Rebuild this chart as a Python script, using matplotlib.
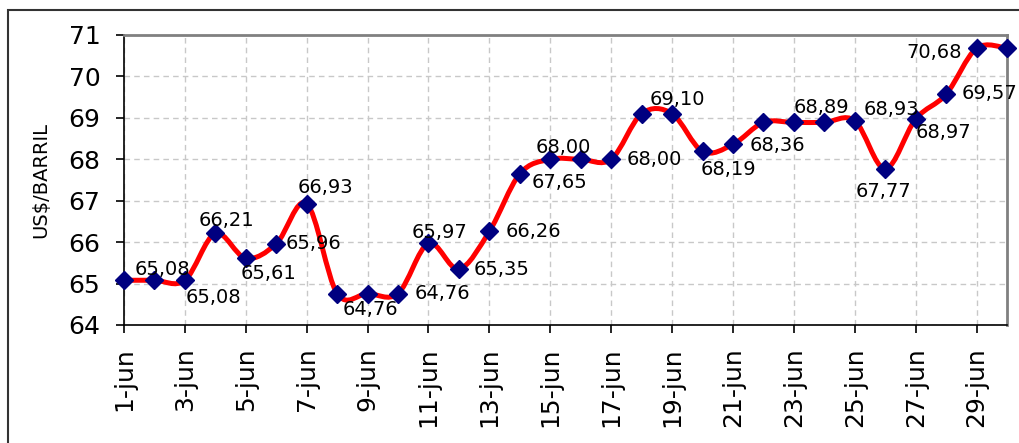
import matplotlib
matplotlib.use("Agg")
import matplotlib.pyplot as plt
from matplotlib.path import Path
from matplotlib.patches import PathPatch, Rectangle

plt.rcParams['font.family'] = ['DejaVu Sans']

# dias de junio y precio del barril
dias = list(range(1, 31))
precios = [65.08, 65.08, 65.08, 66.21, 65.61, 65.96, 66.93, 64.76, 64.76, 64.76,
           65.97, 65.35, 66.26, 67.65, 68.00, 68.00, 68.00, 69.10, 69.10, 68.19,
           68.36, 68.89, 68.89, 68.89, 68.93, 67.77, 68.97, 69.57, 70.68, 70.68]
dias_tick = list(range(1, 30, 2))
etiquetas_tick = [f"{d}-jun" for d in dias_tick]
y_ticks = list(range(64, 72))

# dia -> desplazamiento de la etiqueta (pixeles)
etiquetas_pos = {
    2: (8, 11), 3: (29, -17), 4: (11, 13), 5: (23, -15), 6: (37, 0),
    7: (19, 16), 9: (3, -16), 10: (44, 0), 11: (11, 11), 12: (43, 0),
    13: (44, 0), 14: (40, -9), 15: (13, 12), 17: (43, 0), 19: (5, 14),
    20: (26, -18), 21: (44, -1), 24: (-3, 15), 25: (37, 11), 26: (-2, -23),
    27: (28, -13), 28: (43, 1), 29: (-42, -4),
}


def curva_suave(xs, ys):
    # bezier tipo Excel (catmull-rom)
    pts = list(zip(xs, ys))
    n = len(pts)
    verts = [pts[0]]
    codes = [Path.MOVETO]
    for i in range(n - 1):
        p0 = pts[max(i - 1, 0)]
        p1 = pts[i]
        p2 = pts[i + 1]
        p3 = pts[min(i + 2, n - 1)]
        c1 = (p1[0] + (p2[0] - p0[0]) / 6, p1[1] + (p2[1] - p0[1]) / 6)
        c2 = (p2[0] - (p3[0] - p1[0]) / 6, p2[1] - (p3[1] - p1[1]) / 6)
        verts += [c1, c2, p2]
        codes += [Path.CURVE4] * 3
    return Path(verts, codes)


fig = plt.figure(figsize=(10.2, 4.43), dpi=100)
ax = fig.add_axes([124 / 1020, 1 - 325 / 443, 883 / 1020, 290 / 443])

ax.add_patch(PathPatch(curva_suave(dias, precios), facecolor='none',
                       edgecolor='#ff0000', lw=3.6, zorder=3, capstyle='round'))
ax.plot(dias, precios, linestyle='none', marker='D', markersize=9,
        color='#000080', zorder=4, clip_on=False)

for d, (dx, dy) in etiquetas_pos.items():
    v = precios[d - 1]
    ax.annotate(f"{v:.2f}".replace(".", ","), (d, v), xytext=(dx, dy),
                textcoords='offset pixels', ha='center', va='center',
                fontsize=14, color='black', zorder=5)

ax.set_xlim(1, 30)
ax.set_ylim(64, 71)
ax.set_xticks(dias_tick)
ax.set_xticklabels(etiquetas_tick, rotation=90, fontsize=18)
ax.set_yticks(y_ticks)
ax.set_yticklabels([str(t) for t in y_ticks], fontsize=18)
ax.tick_params(axis='both', direction='out', length=6, width=1.2, color='black')
ax.tick_params(axis='x', pad=10)
ax.tick_params(axis='y', pad=11)

ax.grid(True, linestyle=(0, (4, 3)), color='#c8c8c8', lw=1)
ax.set_axisbelow(True)

for s in ['top', 'right']:
    ax.spines[s].set_color('#808080')
    ax.spines[s].set_linewidth(2)
for s in ['left', 'bottom']:
    ax.spines[s].set_color('black')
    ax.spines[s].set_linewidth(1.2)

ax.set_ylabel("US$/BARRIL", fontsize=14)
ax.yaxis.set_label_coords(-0.084, 0.5)

# marco exterior del grafico
fig.patches.append(Rectangle((8 / 1020, -0.1), 1.2, 1 - 10 / 443 + 0.1,
                             transform=fig.transFigure, fill=False,
                             edgecolor='#333333', lw=1.5))

fig.savefig("out.png", dpi=100)
